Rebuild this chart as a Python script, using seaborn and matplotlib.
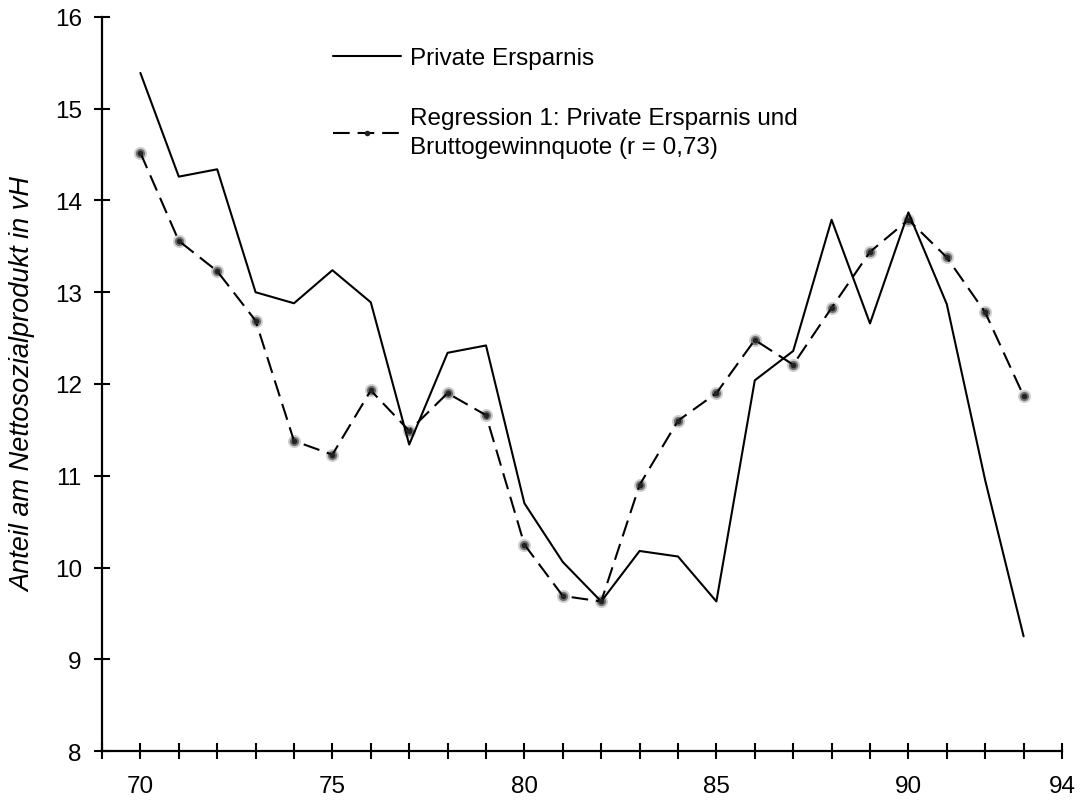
import matplotlib
matplotlib.use("Agg")
import matplotlib.pyplot as plt
import seaborn as sns
import pandas as pd

# Jahre (19xx) und Anteile am Nettosozialprodukt in vH
years = list(range(70, 94))
private_ersparnis = [15.39, 14.26, 14.34, 13.00, 12.88, 13.24, 12.89, 11.34,
                     12.34, 12.42, 10.70, 10.06, 9.63, 10.18, 10.12, 9.63,
                     12.04, 12.36, 13.79, 12.66, 13.87, 12.87, 10.95, 9.25]
regression_1 = [14.52, 13.56, 13.23, 12.69, 11.38, 11.23, 11.93, 11.49,
                11.90, 11.66, 10.25, 9.69, 9.63, 10.90, 11.60, 11.90,
                12.48, 12.21, 12.83, 13.44, 13.79, 13.38, 12.78, 11.87]

tick_years = list(range(69, 95))
labelled_years = [70, 75, 80, 85, 90, 94]
y_ticks = list(range(8, 17))

label_private = "Private Ersparnis"
label_reg = "Regression 1: Private Ersparnis und\nBruttogewinnquote (r = 0,73)"
y_title = "Anteil am Nettosozialprodukt in vH"

df = pd.DataFrame({"Jahr": years, "privat": private_ersparnis, "reg": regression_1})

sns.set_style("ticks")
plt.rcParams["font.family"] = ["Liberation Sans", "DejaVu Sans"]
plt.rcParams["text.color"] = "black"
plt.rcParams["axes.labelcolor"] = "black"

fig = plt.figure(figsize=(10.85, 8.03), dpi=100)
ax = fig.add_axes([0.0940, 0.0635, 0.8848, 0.9141])

sns.lineplot(data=df, x="Jahr", y="privat", ax=ax, color="black",
             linewidth=1.5, label=label_private)

# soft point halos for the regression series
sns.scatterplot(data=df, x="Jahr", y="reg", ax=ax, s=90, color="black",
                alpha=0.18, linewidth=0, legend=False, zorder=3)
sns.scatterplot(data=df, x="Jahr", y="reg", ax=ax, s=45, color="black",
                alpha=0.45, linewidth=0, legend=False, zorder=3)
sns.lineplot(data=df, x="Jahr", y="reg", ax=ax, color="black",
             linewidth=1.5, linestyle=(0, (8, 3.8)), marker="o",
             markersize=4, markerfacecolor="#222222", markeredgewidth=0,
             label=label_reg, zorder=4)

ax.set_xlim(69, 94)
ax.set_ylim(8, 16)
ax.set_xticks(tick_years)
ax.set_xticklabels([str(y) if y in labelled_years else "" for y in tick_years])
ax.set_yticks(y_ticks)
ax.set_yticklabels([str(v) for v in y_ticks])

for side in ("top", "right"):
    ax.spines[side].set_visible(False)
for side in ("left", "bottom"):
    ax.spines[side].set_linewidth(1.6)
    ax.spines[side].set_color("black")

ax.tick_params(axis="both", direction="inout", length=11, width=1.5,
               colors="black", labelcolor="black", labelsize=17.5)
ax.tick_params(axis="x", pad=12)
ax.tick_params(axis="y", pad=9)

ax.set_xlabel("")
ax.set_ylabel(y_title, fontsize=19.5, style="italic", color="black")
ax.yaxis.set_label_coords(-0.068, 0.5)

leg = ax.legend(loc="upper left", bbox_to_anchor=(0.3069, 0.9402),
                bbox_transform=fig.transFigure, frameon=False, fontsize=17.5,
                handlelength=2.8, handletextpad=0.35, borderpad=0,
                borderaxespad=0, labelspacing=1.55)
for t in leg.get_texts():
    t.set_color("black")
    t.set_linespacing(1.45)

fig.savefig("out.png", dpi=100)
